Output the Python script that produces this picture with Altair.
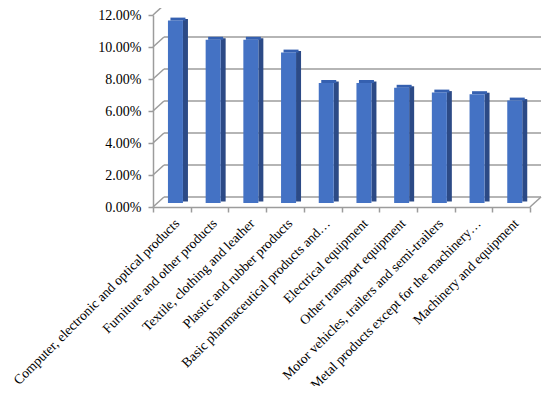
import altair as alt
import pandas as pd

categories = [
    "Computer, electronic and optical products",
    "Furniture and other products",
    "Textile, clothing and leather",
    "Plastic and rubber products",
    "Basic pharmaceutical products and…",
    "Electrical equipment",
    "Other transport equipment",
    "Motor vehicles, trailers and semi-trailers",
    "Metal products except for the machinery…",
    "Machinery and equipment",
]
values = [0.114, 0.102, 0.102, 0.094, 0.075, 0.075, 0.072, 0.069, 0.068, 0.064]
tick_values = [0.0, 0.02, 0.04, 0.06, 0.08, 0.10, 0.12]

W, H = 377, 192
DX, DY = 11, -10
GRID = "#9c9c9c"
FONT = "Liberation Serif"

df = pd.DataFrame({"cat": categories, "val": values})
grid_df = pd.DataFrame({"t": tick_values})

yscale = alt.Scale(domain=[0, 0.12], nice=False)
xscale = alt.Scale(domain=categories, paddingInner=0, paddingOuter=0)

yaxis = alt.Axis(
    title=None,
    values=tick_values,
    format=".2%",
    labelFont=FONT,
    labelFontSize=14,
    labelColor="#000000",
    labelPadding=7,
    labelOverlap=False,
    labelSeparation=0,
    tickSize=5,
    tickColor=GRID,
    tickWidth=1.5,
    domainColor=GRID,
    domainWidth=1.5,
    grid=False,
)

xaxis = alt.Axis(
    title=None,
    labelAngle=-45,
    labelFont=FONT,
    labelFontSize=13.6,
    labelColor="#000000",
    labelLimit=0,
    labelPadding=4,
    labelOverlap=False,
    tickBand="extent",
    tickSize=5,
    tickColor=GRID,
    tickWidth=1.5,
    domainColor=GRID,
    domainWidth=1.5,
)

base_grid = alt.Chart(grid_df)

back_grid = base_grid.mark_rule(
    color=GRID, strokeWidth=1.5, xOffset=DX, x2Offset=DX, yOffset=DY, y2Offset=DY
).encode(
    y=alt.Y("t:Q", scale=yscale, axis=yaxis),
    x=alt.value(0),
    x2=alt.value(W),
)

connectors = base_grid.mark_rule(
    color=GRID, strokeWidth=1.5, x2Offset=DX, y2Offset=DY
).encode(
    y=alt.Y("t:Q", scale=yscale, axis=yaxis),
    y2="t:Q",
    x=alt.value(0),
    x2=alt.value(0),
)

floor_right = alt.Chart(pd.DataFrame({"t": [0.0]})).mark_rule(
    color=GRID, strokeWidth=1.5, x2Offset=DX, y2Offset=DY
).encode(
    y=alt.Y("t:Q", scale=yscale, axis=yaxis),
    y2="t:Q",
    x=alt.value(W),
    x2=alt.value(W),
)

xenc = alt.X("cat:N", scale=xscale, sort=categories, axis=xaxis)

bars = alt.Chart(df)

side = bars.mark_bar(
    size=5, color="#2c4a86", xOffset=13.6, yOffset=-5.5, y2Offset=-5.5
).encode(
    x=xenc,
    y=alt.Y("val:Q", scale=yscale, axis=yaxis),
    y2=alt.datum(0),
)

top = bars.mark_bar(
    size=15, color="#3560b0", xOffset=6.1, yOffset=-7, y2Offset=-4
).encode(
    x=xenc,
    y=alt.Y("val:Q", scale=yscale, axis=yaxis),
    y2="val:Q",
)

front = bars.mark_bar(
    size=15, color="#4472c4", xOffset=3.6, yOffset=-4, y2Offset=-4
).encode(
    x=xenc,
    y=alt.Y("val:Q", scale=yscale, axis=yaxis),
    y2=alt.datum(0),
)

chart = (
    alt.layer(back_grid, connectors, floor_right, side, top, front)
    .properties(
        width=W,
        height=H,
        autosize=alt.AutoSizeParams(type="none"),
        padding={"left": 145, "top": 7, "right": 12, "bottom": 179},
    )
    .configure_view(strokeWidth=0)
    .configure_axis(labelOverlap=False)
)

chart.save("out.html", embed_options={"renderer": "svg", "actions": False})
